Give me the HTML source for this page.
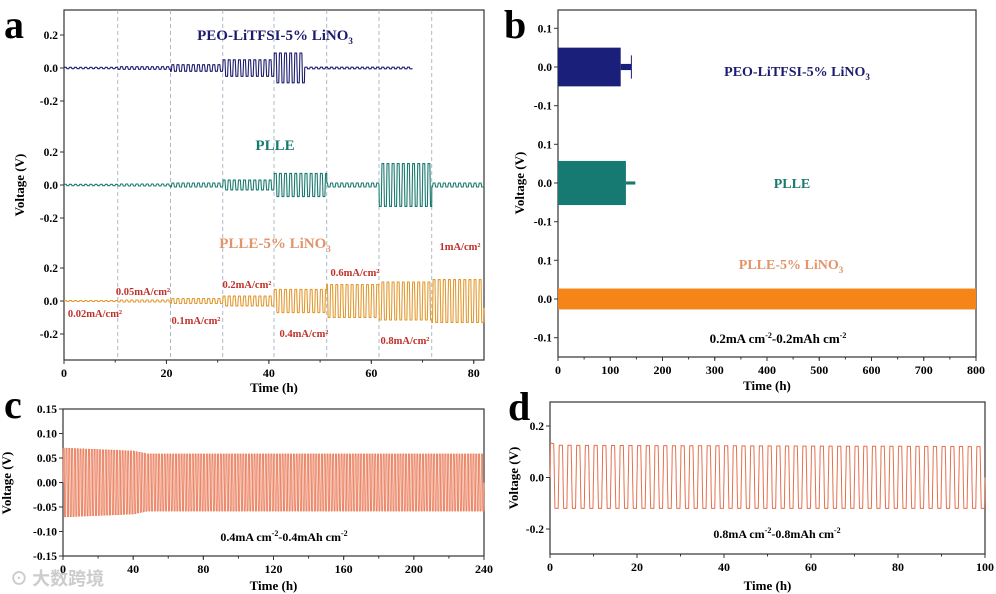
<!DOCTYPE html>
<html><head><meta charset="utf-8">
<style>
html,body{margin:0;padding:0;background:#fff;}
svg{display:block;font-family:"Liberation Serif",serif;font-weight:bold;}
</style></head>
<body>
<svg id="fig" width="996" height="594" viewBox="0 0 996 594" xmlns="http://www.w3.org/2000/svg">
<text x="4" y="38" font-size="40">a</text>
<text x="504" y="38" font-size="40">b</text>
<text x="4" y="418" font-size="40">c</text>
<text x="508" y="420" font-size="40">d</text>
<text x="10" y="585" font-size="18" fill="#ccc" font-family="'Noto Sans CJK SC',sans-serif">⊙ 大数跨境</text>
<g id="layer"></g>
</svg>
<script>
// ---------- data ----------
const aSegStart = [0, 10.5, 20.8, 31, 41, 51.3, 61.5, 71.8];
const aCurrentLabels = ["0.02mA/cm²","0.05mA/cm²","0.1mA/cm²","0.2mA/cm²","0.4mA/cm²","0.6mA/cm²","0.8mA/cm²","1mA/cm²"];
const peoSegStart = [0, 10.5, 20.8, 31, 41, 47];
const ampPEO  = [0.004, 0.008, 0.02, 0.05, 0.09, 0.005];
const ampPLLE = [0.004, 0.006, 0.012, 0.03, 0.07, 0.012, 0.13, 0.012];
const ampLi   = [0.003, 0.006, 0.015, 0.03, 0.07, 0.1, 0.115, 0.13];
const aEndPEO = 68;
const bPEOStart = [0, 120, 139.5];
const bPEOEnd   = [120, 140, 141];
const bPEOAmp   = [0.05, 0.008, 0.03];
const bPLLEStart = [0, 130];
const bPLLEEnd   = [130, 148];
const bPLLEAmp   = [0.057, 0.004];
const bLiStart = [0];
const bLiEnd   = [800];
const bLiAmp   = [0.027];
const cTimes = [0, 40, 48, 120, 240];
const cAmps  = [0.07, 0.064, 0.058, 0.058, 0.058];
const cPeriod = 1.6;
const dTimes = [0, 2, 100];
const dUpper = [0.135, 0.125, 0.12];
const dLower = [-0.12, -0.12, -0.12];
const dPeriod = 2;

// ---------- helpers ----------
const NS = "http://www.w3.org/2000/svg";
const layer = document.getElementById('layer');
function mk(tag, attrs, parent){ const e=document.createElementNS(NS,tag); for(const k in attrs) e.setAttribute(k,attrs[k]); (parent||layer).appendChild(e); return e; }
function lin(d0,d1,r0,r1){ return v => r0 + (v-d0)*(r1-r0)/(d1-d0); }
function interp(xs, ys, x){ for(let i=0;i<xs.length-1;i++){ if(x<=xs[i+1]) return ys[i]+(ys[i+1]-ys[i])*(x-xs[i])/(xs[i+1]-xs[i]); } return ys[ys.length-1]; }
function sq(t, period){ const s=Math.sin(2*Math.PI*t/period); return Math.sign(s)*Math.min(1, Math.abs(s)*2.5); }
function txt(x,y,s,size,fill,anchor,name){ const e=mk('text',{x:x,y:y,'font-size':size,fill:fill||'#000','text-anchor':anchor||'middle'}); e.innerHTML=s;
  
  
  return e; }
function box(x0,y0,x1,y1,name){ const r=mk('rect',{x:x0,y:y0,width:x1-x0,height:y1-y0,fill:'none',stroke:'#333','stroke-width':1.2});
  
   }
function xAxis(sx, ticks, y, minorStep, name){
  const g=mk('g',{});
  
  
  for(const t of ticks){ mk('line',{x1:sx(t),x2:sx(t),y1:y,y2:y+4,stroke:'#333'},g); const e=mk('text',{x:sx(t),y:y+17,'font-size':12,'text-anchor':'middle'},g); e.textContent=t; }
  for(let t=ticks[0]; t<=ticks[ticks.length-1]+1e-9; t+=minorStep){ mk('line',{x1:sx(t),x2:sx(t),y1:y,y2:y+2.5,stroke:'#333'},g); }
}
function yLabels(sy, vals, labels, x, name){
  const g=mk('g',{});
  
  
  vals.forEach((v,i)=>{ mk('line',{x1:x-4,x2:x,y1:sy(v),y2:sy(v),stroke:'#333'},g); const e=mk('text',{x:x-6,y:sy(v)+4,'font-size':11.5,'text-anchor':'end'},g); e.textContent=labels[i]; });
}
function pathFrom(pts){ return 'M'+pts.map(p=>p[0].toFixed(1)+','+p[1].toFixed(1)).join('L'); }

// ---------- Panel a ----------
(function(){
  const x0=64,x1=484,y0=10,y1=360;
  const sx=lin(0,82,x0,x1);
  const pxPerV = 33/0.2;
  const base=[68,185,301];
  box(x0,y0,x1,y1,'panel-a-frame');
  aSegStart.slice(1).forEach(t=>{ const l=mk('line',{x1:sx(t),x2:sx(t),y1:y0,y2:y1,stroke:'#9ab','stroke-dasharray':'4,3','stroke-width':0.8});
      });
  const series=[[ampPEO,peoSegStart,'#1c1c6e',aEndPEO,'peo-trace'],[ampPLLE,aSegStart,'#1a7a70',82,'plle-trace'],[ampLi,aSegStart,'#e39a32',82,'plle-lino3-trace']];
  series.forEach((s,k)=>{
    const pts=[];
    const starts=s[1];
    for(let t=0;t<=s[3];t+=0.02){
      let i=starts.length-1; while(i>0 && t<starts[i]) i--;
      pts.push([sx(t), base[k]-s[0][i]*pxPerV*sq(t,1)]);
    }
    const p=mk('path',{d:pathFrom(pts),fill:'none',stroke:s[2],'stroke-width':1.1});
    
    
  });
  base.forEach((b,k)=>{ const sy=v=>b-v*pxPerV; yLabels(sy,[0.2,0,-0.2],['0.2','0.0','-0.2'],x0,'panel-a-y-ticks-'+k); });
  xAxis(sx,[0,20,40,60,80],y1,10,'panel-a-x-axis');
  txt(x0+(x1-x0)/2,392,'Time (h)',13,'#000','middle','panel-a-x-title');
  const yt=txt(0,0,'Voltage (V)',13,'#000','middle','panel-a-y-title'); yt.setAttribute('transform','translate(24,185) rotate(-90)');
  txt(275,40,'PEO-LiTFSI-5% LiNO<tspan font-size="9" dy="4">3</tspan>',15,'#1c1c6e','middle','panel-a-peo-label');
  txt(275,150,'PLLE',15,'#1a7a70','middle','panel-a-plle-label');
  txt(275,248,'PLLE-5% LiNO<tspan font-size="9" dy="4">3</tspan>',15,'#e2946a','middle','panel-a-lino3-label');
  const lp=[[95,317],[143,295],[196,324],[247,288],[304,337],[355,276],[405,344],[460,250]];
  aCurrentLabels.forEach((s,i)=>txt(lp[i][0],lp[i][1],s,10.5,'#c0302a','middle','current-label-'+i));
})();

// ---------- Panel b ----------
(function(){
  const x0=558,x1=976,y0=10,y1=357;
  const sx=lin(0,800,x0,x1);
  const pxPerV=38.7/0.1;
  const base=[67,183,299];
  box(x0,y0,x1,y1,'panel-b-frame');
  const groups=[[bPEOStart,bPEOEnd,bPEOAmp,'#1a1f7a','peo-band'],[bPLLEStart,bPLLEEnd,bPLLEAmp,'#177a72','plle-band'],[bLiStart,bLiEnd,bLiAmp,'#f58518','plle-lino3-band']];
  groups.forEach((g,k)=>{
    g[0].forEach((s,i)=>{
      const r=mk('rect',{x:sx(s),y:base[k]-g[2][i]*pxPerV,width:Math.max(1,sx(g[1][i])-sx(s)),height:2*g[2][i]*pxPerV,fill:g[3]});
      
      
    });
  });
  base.forEach((b,k)=>{ const sy=v=>b-v*pxPerV; yLabels(sy,[0.1,0,-0.1],['0.1','0.0','-0.1'],x0,'panel-b-y-ticks-'+k); });
  xAxis(sx,[0,100,200,300,400,500,600,700,800],y1,50,'panel-b-x-axis');
  txt(x0+(x1-x0)/2,390,'Time (h)',13,'#000','middle','panel-b-x-title');
  const yt=txt(0,0,'Voltage (V)',13,'#000','middle','panel-b-y-title'); yt.setAttribute('transform','translate(524,183) rotate(-90)');
  txt(797,76,'PEO-LiTFSI-5% LiNO<tspan font-size="9" dy="4">3</tspan>',14,'#1c1c6e','middle','panel-b-peo-label');
  txt(792,188,'PLLE',14,'#1a7a70','middle','panel-b-plle-label');
  txt(791,269,'PLLE-5% LiNO<tspan font-size="9" dy="4">3</tspan>',14,'#e2946a','middle','panel-b-lino3-label');
  txt(778,343,'0.2mA cm<tspan font-size="8" dy="-5">-2</tspan><tspan dy="5">-0.2mAh cm</tspan><tspan font-size="8" dy="-5">-2</tspan>',13,'#000','middle','panel-b-condition');
})();

// ---------- Panel c ----------
(function(){
  const x0=63,x1=484,y0=409,y1=556;
  const sx=lin(0,240,x0,x1), sy=lin(-0.15,0.15,y1,y0);
  box(x0,y0,x1,y1,'panel-c-frame');
  const pts=[];
  for(let t=0;t<=240;t+=0.04){ const a=interp(cTimes,cAmps,t); pts.push([sx(t),sy(a*sq(t,cPeriod))]); }
  const p=mk('path',{d:pathFrom(pts),fill:'none',stroke:'#ea7a58','stroke-width':0.9});
   
  const v=[0.15,0.10,0.05,0,-0.05,-0.10,-0.15];
  yLabels(sy,v,['0.15','0.10','0.05','0.00','-0.05','-0.10','-0.15'],x0,'panel-c-y-ticks');
  xAxis(sx,[0,40,80,120,160,200,240],y1,20,'panel-c-x-axis');
  txt(x0+(x1-x0)/2,590,'Time (h)',13,'#000','middle','panel-c-x-title');
  const yt=txt(0,0,'Voltage (V)',13,'#000','middle','panel-c-y-title'); yt.setAttribute('transform','translate(11,483) rotate(-90)');
  txt(284,541,'0.4mA cm<tspan font-size="8" dy="-5">-2</tspan><tspan dy="5">-0.4mAh cm</tspan><tspan font-size="8" dy="-5">-2</tspan>',12,'#000','middle','panel-c-condition');
})();

// ---------- Panel d ----------
(function(){
  const x0=550,x1=985,y0=402,y1=554;
  const sx=lin(0,100,x0,x1), sy=lin(-0.2,0.2,529,426);
  box(x0,y0,x1,y1,'panel-d-frame');
  const pts=[];
  for(let t=0;t<=100;t+=0.02){ const s=sq(t,dPeriod); const a= s>=0 ? interp(dTimes,dUpper,t) : -interp(dTimes,dLower,t); pts.push([sx(t),sy(a*s)]); }
  const p=mk('path',{d:pathFrom(pts),fill:'none',stroke:'#e5704e','stroke-width':1});
   
  yLabels(sy,[0.2,0,-0.2],['0.2','0.0','-0.2'],x0,'panel-d-y-ticks');
  xAxis(sx,[0,20,40,60,80,100],y1,10,'panel-d-x-axis');
  txt(x0+(x1-x0)/2,590,'Time (h)',13,'#000','middle','panel-d-x-title');
  const yt=txt(0,0,'Voltage (V)',13,'#000','middle','panel-d-y-title'); yt.setAttribute('transform','translate(518,478) rotate(-90)');
  txt(777,538,'0.8mA cm<tspan font-size="8" dy="-5">-2</tspan><tspan dy="5">-0.8mAh cm</tspan><tspan font-size="8" dy="-5">-2</tspan>',12,'#000','middle','panel-d-condition');
})();
</script>
</body></html>
